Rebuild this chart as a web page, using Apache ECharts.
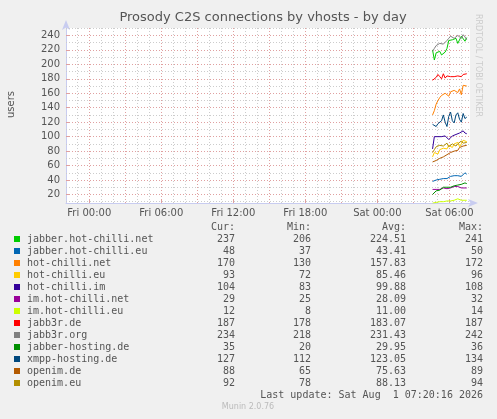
<!DOCTYPE html>
<html><head><meta charset="utf-8">
<script src="https://cdn.jsdelivr.net/npm/echarts@6/dist/echarts.min.js"></script>
<style>html,body{margin:0;padding:0;background:#f0f0f0}#c{width:497px;height:419px}</style>
</head><body><div id="c"></div>
<script>
const title = 'Prosody C2S connections by vhosts - by day';
const names = ['jabber.hot-chilli.net','jabber.hot-chilli.eu','hot-chilli.net','hot-chilli.eu','hot-chilli.im','im.hot-chilli.net','im.hot-chilli.eu','jabb3r.de','jabb3r.org','jabber-hosting.de','xmpp-hosting.de','openim.de','openim.eu'];
const colors = ['#00CC00','#0066B3','#FF8000','#FFCC00','#330099','#990099','#CCFF00','#FF0000','#808080','#008F00','#00487D','#B35A00','#B38F00'];
const curV = ['237','48','170','93','104','29','12','187','234','35','127','88','92'];
const minV = ['206','37','130','72','83','25','8','178','218','20','112','65','78'];
const avgV = ['224.51','43.41','157.83','85.46','99.88','28.09','11.00','183.07','231.43','29.95','123.05','75.63','88.13'];
const maxV = ['241','50','172','96','108','32','14','187','242','36','134','89','94'];
// hours since Fri 00:00
const times = [28.6,28.75,28.9,29.05,29.2,29.35,29.5,29.65,29.8,29.95,30.1,30.25,30.4,30.55,30.7,30.85,31.0,31.15,31.3,31.45];
const values = [
 [220,206,216,214,218,213,215,217,222,233,231,234,232,236,229,227,239,241,232,237],
 [38,37,40,39,41,40,42,43,42,44,45,44,46,47,46,48,45,47,50,48],
 [130,136,145,150,154,157,155,160,158,156,162,160,164,163,161,166,158,171,172,170],
 [72,78,80,76,82,80,84,86,83,88,86,85,90,88,92,86,90,95,96,93],
 [83,100,100,100,100,100,99,101,100,96,98,101,100,103,104,105,107,108,105,104],
 [27,26,27,25,27,28,29,29,28,28,29,30,31,32,31,30,29,29,29,29],
 [8,9,9,10,10,10,10,11,11,11,11,12,12,13,14,13,12,12,12,12],
 [178,180,182,186,183,180,187,181,184,182,183,185,183,182,184,185,183,186,185,187],
 [218,222,226,224,229,230,228,230,233,236,239,238,236,235,240,242,236,241,238,234],
 [20,22,25,24,26,28,30,29,30,31,30,31,32,33,33,34,34,35,36,35],
 [117,115,114,118,116,122,130,120,114,128,134,122,119,130,133,124,120,132,125,127],
 [65,66,67,66,70,68,72,71,75,76,78,77,80,82,81,85,84,87,89,88],
 [78,82,86,84,88,90,87,89,91,86,88,90,92,87,90,92,94,91,93,92]
];
const xTicks = [0,6,12,18,24,30];
const xTickLabels = ['Fri 00:00','Fri 06:00','Fri 12:00','Fri 18:00','Sat 00:00','Sat 06:00'];
const yTicks = [20,40,60,80,100,120,140,160,180,200,220,240];
const lastUpdate = 'Last update: Sat Aug  1 07:20:16 2026';

const xMin=-1.94, xMax=31.72, yMin=8.2, yMax=250.3;
const minorX=[], majorX=[], minorY=[], majorY=[];
for(let h=-1;h<=31;h++){ (h%3===0?majorX:minorX).push(h); }
for(let v=10;v<=250;v+=10){ (v%20===0?majorY:minorY).push(v); }

const series = [];
const ml = (arr,axis,color)=>({type:'line',data:[],silent:true,z:1,markLine:{silent:true,symbol:'none',label:{show:false},
  lineStyle:{color:color,type:[1,2],width:1},data:arr.map(v=>({[axis]:v}))}});
series.push(ml(minorX,'xAxis','#cccccc'),ml(minorY,'yAxis','#cccccc'),ml(majorX,'xAxis','#e0a0a0'),ml(majorY,'yAxis','#e0a0a0'));
names.forEach((n,i)=>series.push({type:'line',name:n,data:times.map((t,j)=>[t,values[i][j]]),symbol:'none',
  lineStyle:{color:colors[i],width:1},z:5}));

const mono='DejaVu Sans Mono';
const g=[];
const colX=[235,311,406,483];
['Cur:','Min:','Avg:','Max:'].forEach((h,k)=>g.push({type:'text',x:colX[k],y:222,style:{text:h,font:'10px '+mono,fill:'#555',align:'right'}}));
names.forEach((n,i)=>{
  const y=234+i*12;
  g.push({type:'rect',shape:{x:14,y:y+2,width:6,height:6},style:{fill:colors[i]}});
  g.push({type:'text',x:27,y:y,style:{text:n,font:'10px '+mono,fill:'#555'}});
  [curV,minV,avgV,maxV].forEach((a,k)=>g.push({type:'text',x:colX[k],y:y,style:{text:a[i],font:'10px '+mono,fill:'#555',align:'right'}}));
});
g.push({type:'text',x:483,y:390,style:{text:lastUpdate,font:'10px '+mono,fill:'#555',align:'right'}});
g.push({type:'text',x:248,y:403,style:{text:'Munin 2.0.76',font:'8px DejaVu Sans',fill:'#bbb',align:'center'}});
g.push({type:'text',x:263,y:11,style:{text:title,font:'13px DejaVu Sans',fill:'#555',align:'center'}});
g.push({type:'text',x:482,y:14,rotation:-Math.PI/2,style:{text:'RRDTOOL / TOBI OETIKER',font:'8px DejaVu Sans',fill:'#ccc'}});
g.push({type:'text',x:6,y:118,rotation:Math.PI/2,style:{text:'users',font:'10px DejaVu Sans',fill:'#555'}});

const chart=echarts.init(document.getElementById('c'));
chart.setOption({
  animation:false, backgroundColor:'#f0f0f0',
  grid:{left:66,top:28,width:404,height:175,show:true,backgroundColor:'#fff',borderWidth:0},
  xAxis:{type:'value',min:xMin,max:xMax,splitLine:{show:false},
    axisLine:{onZero:false,lineStyle:{color:'#c8ccf0'},symbol:['none','arrow'],symbolSize:[6,10],symbolOffset:[0,8]},
    axisTick:{customValues:xTicks,lineStyle:{color:'#e0a0a0'},length:3,inside:true},
    axisLabel:{customValues:xTicks,formatter:v=>xTickLabels[xTicks.indexOf(v)],color:'#555',fontSize:10,fontFamily:'DejaVu Sans',margin:5}},
  yAxis:{type:'value',min:yMin,max:yMax,splitLine:{show:false},
    axisLine:{show:true,onZero:false,lineStyle:{color:'#c8ccf0'},symbol:['none','arrow'],symbolSize:[6,10],symbolOffset:[0,8]},
    axisTick:{show:true,customValues:yTicks,lineStyle:{color:'#e0a0a0'},length:3,inside:true},
    axisLabel:{customValues:yTicks,color:'#555',fontSize:10,fontFamily:'DejaVu Sans',margin:6}},
  series:series, graphic:g
});
</script></body></html>
